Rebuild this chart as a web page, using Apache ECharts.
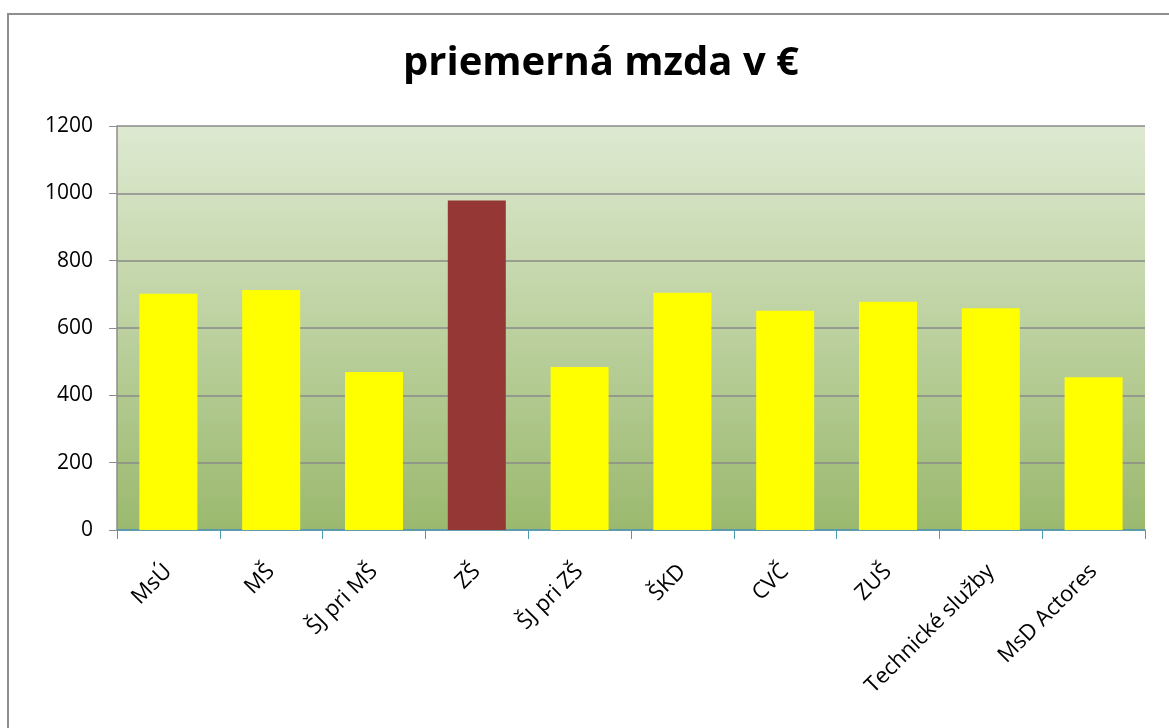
<!DOCTYPE html>
<html>
<head>
<meta charset="utf-8">
<script src="https://cdn.jsdelivr.net/npm/echarts@6/dist/echarts.min.js"></script>
<style>
  html, body { margin: 0; padding: 0; background: #fff; }
  #frame {
    position: absolute; left: 7px; top: 13px; width: 1200px; height: 760px;
    border: 2px solid #8e8e8e; box-sizing: border-box;
  }
  #chart { position: absolute; left: 0; top: 0; width: 1169px; height: 728px; }
</style>
</head>
<body>
<div id="frame"></div>
<div id="chart"></div>
<script>
// kategórie a hodnoty
const categories = ["MsÚ", "MŠ", "ŠJ pri MŠ", "ZŠ", "ŠJ pri ZŠ", "ŠKD", "CVČ", "ZUŠ", "Technické služby", "MsD Actores"];
const wages = [702, 713, 469, 979, 484, 705, 651, 678, 659, 454];
const highlightIndex = 3; // ZŠ
const yTicks = [0, 200, 400, 600, 800, 1000, 1200];

const chart = echarts.init(document.getElementById("chart"));

const options = {
  animation: false,
  title: {
    text: "priemerná mzda v €",
    left: 398,
    top: 39,
    textStyle: {
      fontFamily: "Open Sans",
      fontWeight: "bold",
      fontSize: 40,
      color: "#000"
    }
  },
  grid: {
    left: 117,
    top: 126,
    right: 24,
    bottom: 198,
    show: true,
    borderWidth: 0,
    backgroundColor: new echarts.graphic.LinearGradient(0, 0, 0, 1, [
      { offset: 0, color: "#dee9d1" },
      { offset: 1, color: "#9bb96e" }
    ])
  },
  xAxis: {
    type: "category",
    data: categories,
    axisLine: { lineStyle: { color: "#4a9ab4", width: 1.5 } },
    axisTick: { show: true, length: 9, lineStyle: { color: "#4a9ab4" } },
    axisLabel: {
      rotate: 45,
      margin: 38,
      color: "#000",
      fontFamily: "Open Sans",
      fontSize: 22
    }
  },
  yAxis: {
    type: "value",
    min: yTicks[0],
    max: yTicks[yTicks.length - 1],
    interval: 200,
    axisLine: { show: true, lineStyle: { color: "#8c8c8c", width: 1.5 } },
    axisTick: { show: true, length: 8, lineStyle: { color: "#8c8c8c" } },
    axisLabel: {
      margin: 24,
      color: "#000",
      fontFamily: "Open Sans",
      fontSize: 21,
      formatter: (v) => String(v)
    },
    splitLine: { lineStyle: { color: "#8a8a8a", width: 1.5 } }
  },
  series: [
    {
      type: "bar",
      barWidth: 58,
      data: wages.map((v, i) => ({
        value: v,
        itemStyle: { color: i === highlightIndex ? "#953735" : "#ffff00" }
      }))
    }
  ]
};

chart.setOption(options);
</script>
</body>
</html>
